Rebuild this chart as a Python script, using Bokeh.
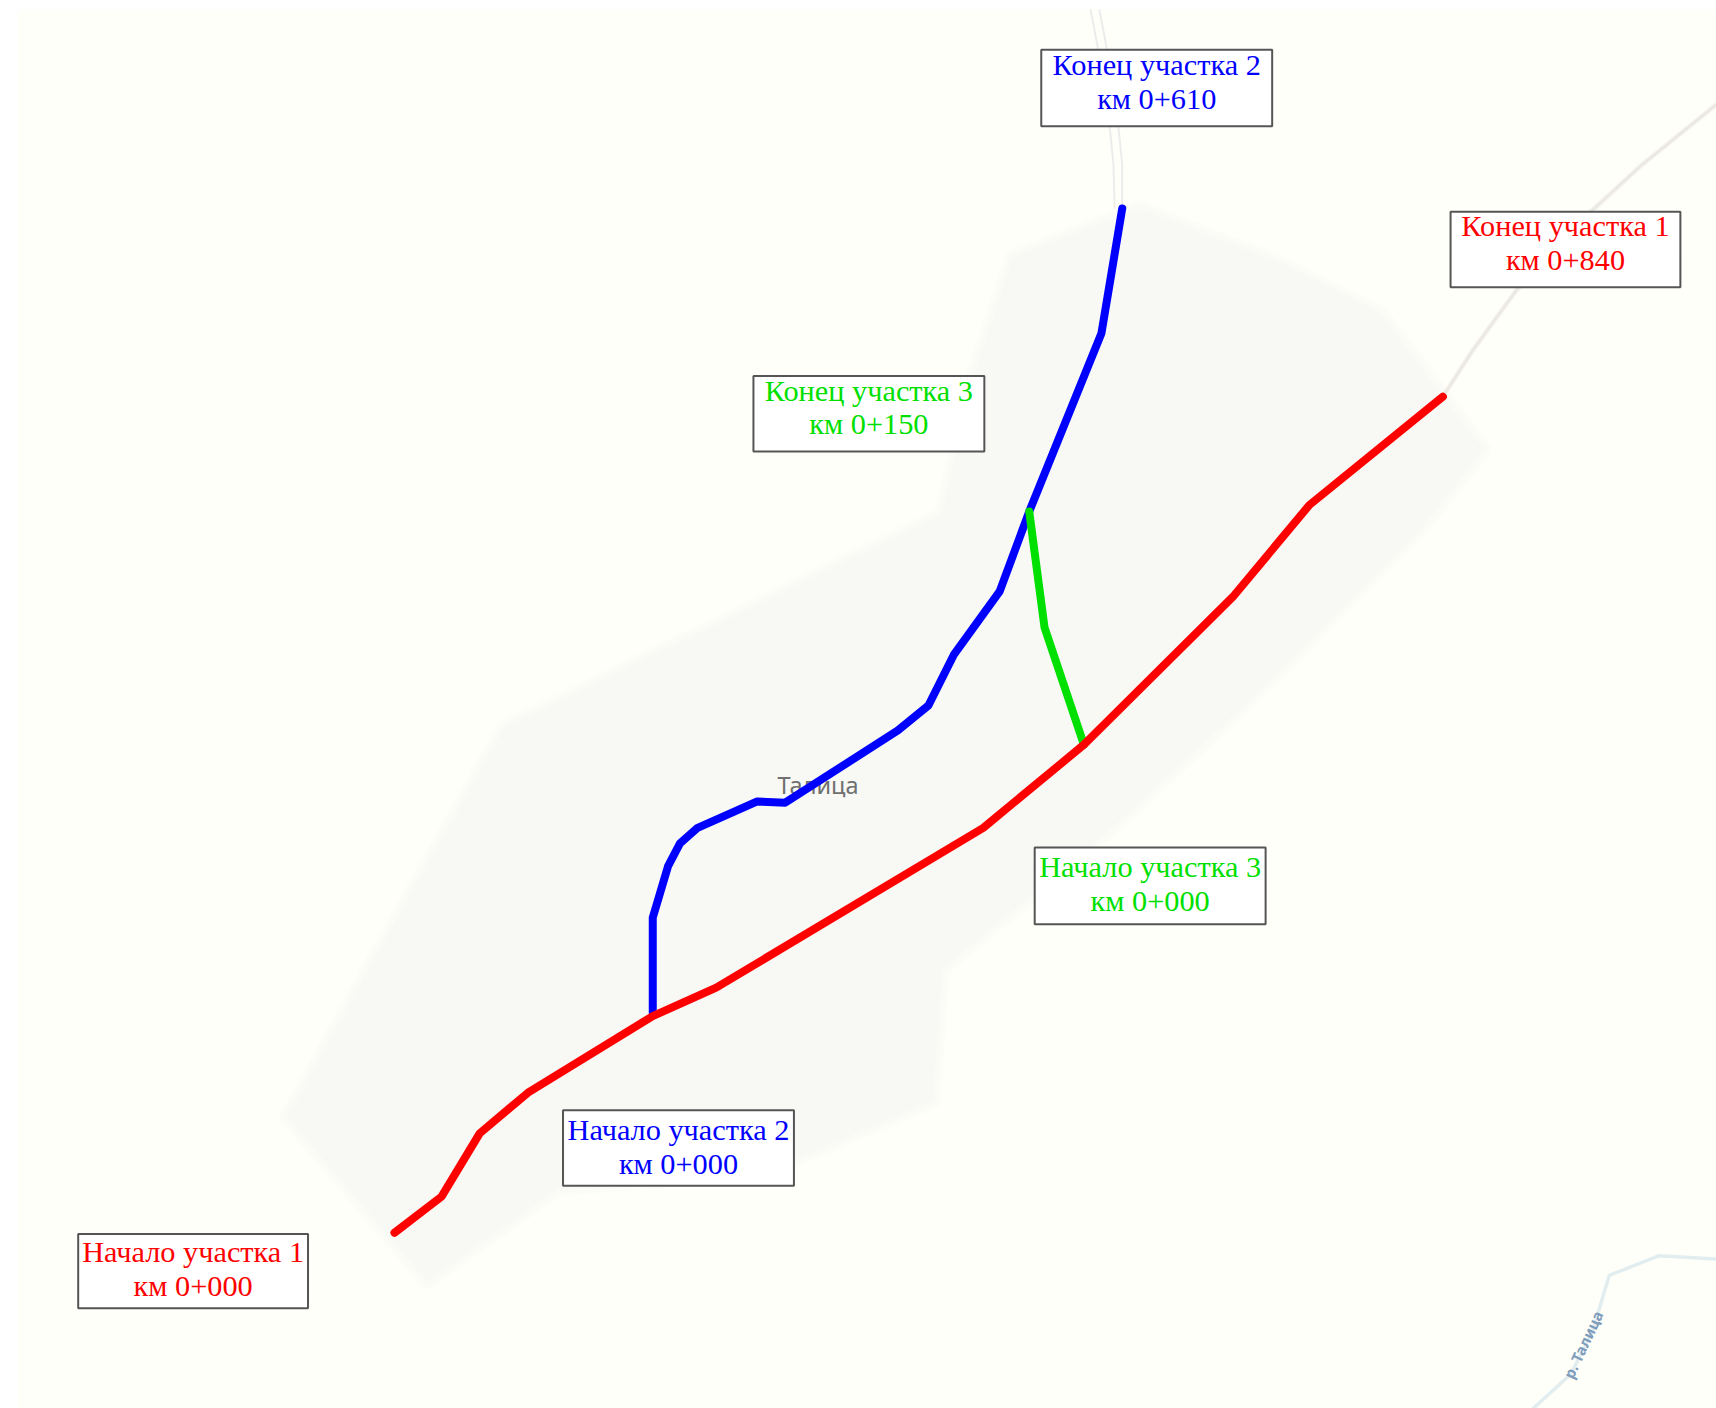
from bokeh.plotting import figure
from bokeh.models import Range1d
from bokeh.core.properties import value
from bokeh.embed import file_html
from bokeh.resources import INLINE

# All coordinates (1568-wide view, y downwards)
S = 1716 / 1568
W, H = 1716, 1408

map_x = [16, 1568, 1568, 16]
map_y = [8, 8, 1287, 1287]

town_x = [262, 345, 460, 860, 890, 925, 1040, 1170, 1260, 1355, 1300, 1130, 1000, 860, 852, 700, 510, 390]
town_y = [1020, 870, 665, 470, 340, 235, 190, 240, 285, 410, 480, 650, 770, 885, 1005, 1070, 1085, 1170]

road_n_x = [996, 1004, 1014, 1017, 1018]
road_n_y = [8, 50, 120, 150, 190]
road_n2_x = [1004, 1012, 1022, 1025, 1025]
road_n2_y = [8, 50, 120, 150, 190]
road_e_x = [1568, 1500, 1440, 1385, 1345, 1318]
road_e_y = [95, 150, 205, 265, 320, 362]
river_x = [1400, 1435, 1455, 1470, 1515, 1568]
river_y = [1287, 1255, 1215, 1165, 1147, 1150]

red_x = [360, 403, 438, 482, 596, 654, 898, 990, 1126, 1196, 1318]
red_y = [1126, 1093, 1035, 998, 928, 902, 756, 680, 545, 461, 362]
blue_x = [596, 596, 610, 621, 637, 691, 717, 820, 848, 871, 913, 940, 1006, 1025]
blue_y = [925, 838, 791, 770, 756, 732, 733, 667, 644, 598, 540, 467, 304, 190]
green_x = [940, 954, 990]
green_y = [467, 573, 680]

box_left = [71, 514, 945, 688, 951, 1325]
box_right = [281, 725, 1156, 899, 1162, 1535]
box_top = [1127, 1014, 774, 343, 45, 193]
box_bottom = [1195, 1083, 844, 412, 115, 262]
box_colors = ["#ff0000", "#0000ff", "#00e000", "#00e000", "#0000ff", "#ff0000"]
line1 = ["Начало участка 1", "Начало участка 2", "Начало участка 3",
         "Конец участка 3", "Конец участка 2", "Конец участка 1"]
line2 = ["км 0+000", "км 0+000", "км 0+000", "км 0+150", "км 0+610", "км 0+840"]
line1_y = [1144, 1032, 792, 357, 59, 206]
line2_y = [1175, 1063, 823, 387, 90, 237]

p = figure(width=W, height=H, output_backend="svg", toolbar_location=None,
           x_range=Range1d(0, W / S), y_range=Range1d(H / S, 0),
           x_axis_type=None, y_axis_type=None, min_border=0,
           background_fill_color="white", border_fill_color="white")
p.grid.visible = False
p.outline_line_color = None

p.patch(map_x, map_y, fill_color="#fefff8", line_color=None)
# soft edge of the settlement area
for w, a in [(16, 0.25), (10, 0.35), (5, 0.5)]:
    p.patch(town_x, town_y, fill_color=None, line_color="#f8f9f5", line_alpha=a,
            line_width=w, line_join="round")
p.patch(town_x, town_y, fill_color="#f8f9f5", line_color=None)

p.line(road_n_x, road_n_y, line_color="#ececec", line_width=2)
p.line(road_n2_x, road_n2_y, line_color="#ececec", line_width=2)
p.line(road_e_x, road_e_y, line_color="#eeeae4", line_width=5, line_alpha=0.5)
p.line(road_e_x, road_e_y, line_color="#ebe8e1", line_width=2.5)
p.line(river_x, river_y, line_color="#e2edf0", line_width=3.5)

p.text([747], [717], text=["Талица"], text_color="#707070", text_font=value("Noto Sans"),
       text_font_size="23.5px", text_align="center", text_baseline="middle")
p.text([1446], [1228], text=["р. Талица"], text_color="#7f9cbc", text_font=value("Noto Sans"),
       text_font_size="15px", text_font_style="bold", text_align="center", text_baseline="middle", angle=1.13)

for xs, ys, c in [(blue_x, blue_y, "#0000ff"), (green_x, green_y, "#00e000"), (red_x, red_y, "#ff0000")]:
    p.line(xs, ys, line_color=c, line_width=8, line_cap="round", line_join="round")

p.quad(left=box_left, right=box_right, top=box_top, bottom=box_bottom,
       fill_color="white", line_color="#555555", line_width=2)

cx = [(a + b) / 2 for a, b in zip(box_left, box_right)]
common = dict(text_font=value("Liberation Serif"), text_font_size="30.3px",
              text_align="center", text_baseline="middle")
p.text(cx, line1_y, text=line1, text_color=box_colors, **common)
p.text(cx, line2_y, text=line2, text_color=box_colors, **common)

open("out.html", "w").write(file_html(p, INLINE))
